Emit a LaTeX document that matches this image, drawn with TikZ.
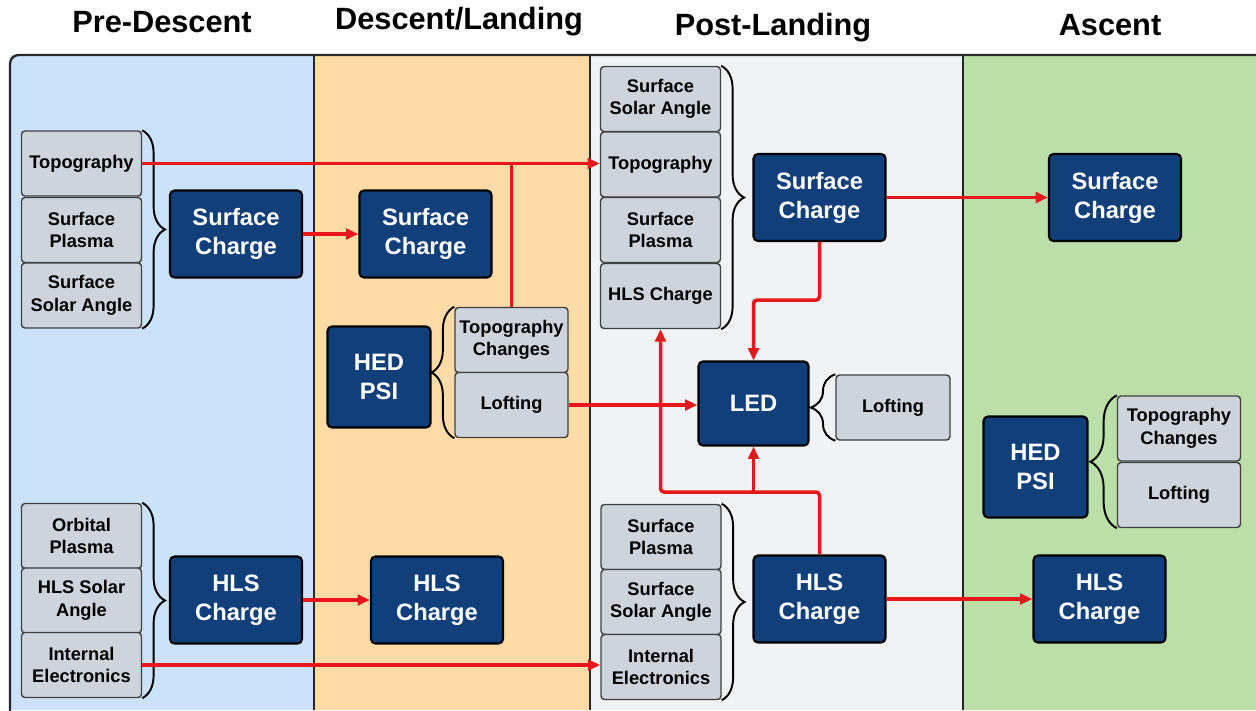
\documentclass[tikz,border=0pt]{standalone}
\usepackage{fontspec}
\setmainfont{Liberation Sans}
\setsansfont{Liberation Sans}
\usetikzlibrary{arrows.meta, calc, decorations.pathreplacing}
\definecolor{navy}{HTML}{103F7A}
\definecolor{gfill}{HTML}{CED4DC}
\definecolor{redl}{HTML}{E8171C}
\definecolor{pblue}{HTML}{CCE2FB}
\definecolor{porange}{HTML}{FDDBA6}
\definecolor{pgray}{HTML}{F1F2F4}
\definecolor{pgreen}{HTML}{BCDFAA}

\begin{document}
\begin{tikzpicture}[
    x=0.02cm, y=-0.02cm,
    every node/.style={font=\sffamily\bfseries},
    title/.style={font=\sffamily\bfseries\fontsize{17.5}{20}\selectfont, anchor=base},
    gbox/.style={
        rectangle, rounded corners=2pt, minimum width=2.4cm,
        minimum height=1.3cm, line width=0.8pt, inner sep=1pt,
        draw=black!75, fill=gfill, text=black, align=center,
        font=\sffamily\bfseries\fontsize{10.4}{12.8}\selectfont,
    },
    dbox/.style={
        rectangle, rounded corners=2.5pt, minimum width=2.64cm,
        minimum height=1.74cm, line width=1.2pt,
        draw=black, fill=navy, text=white, align=center,
        font=\sffamily\bfseries\fontsize{13.5}{16.5}\selectfont,
    },
    arr/.style={-{Triangle[length=7pt, width=6pt]}, line width=2pt, draw=redl, rounded corners=2pt},
    wire/.style={line width=2pt, draw=redl},
    brc/.style={decorate, decoration={brace, amplitude=#1}, draw=black, line width=1.1pt},
    brc/.default=13pt,
]
\useasboundingbox (0,0) rectangle (1256,710);
\clip (0,0) rectangle (1256,710);

% ---------------------------------------------------------------- panels
\fill[pblue]   (10,55)  rectangle (314,710);
\fill[porange] (314,55) rectangle (590,710);
\fill[pgray]   (590,55) rectangle (963,710);
\fill[pgreen]  (963,55) rectangle (1256,710);
\foreach \x in {314, 590, 963}{
    \draw[black!85, line width=1.2pt] (\x,55) -- (\x,710);
}
\draw[black!85, line width=1.3pt, rounded corners=5pt] (10,715) -- (10,55) -- (1262,55);

\node[title] (tPre)  at (162,32)  {Pre-Descent};
\node[title] (tDesc) at (459,30)  {Descent/Landing};
\node[title] (tPost) at (773,35)  {Post-Landing};
\node[title] (tAsc)  at (1110,35) {Ascent};

% ---------------------------------------------------------------- pre-descent
\node[gbox] (pdTopo)   at (81.5,163.5) {Topography};
\node[gbox] (pdPlasma) at (81.5,230)   {Surface\\Plasma};
\node[gbox] (pdSolar)  at (81.5,295.5) {Surface\\Solar Angle};
\node[dbox] (pdSC)     at (236,234)    {Surface\\Charge};
\draw[brc] (pdTopo.north east) -- (pdSolar.south east);

\node[gbox] (pdOrb)    at (81.5,536)   {Orbital\\Plasma};
\node[gbox] (pdHsol)   at (81.5,600.5) {HLS Solar\\Angle};
\node[gbox] (pdElec)   at (81.5,665)   {Internal\\Electronics};
\node[dbox] (pdHLS)    at (236,600)    {HLS\\Charge};
\draw[brc] (pdOrb.north east) -- (pdElec.south east);

% ---------------------------------------------------------------- descent/landing
\node[dbox] (dlSC)     at (425.5,234)  {Surface\\Charge};
\node[dbox, minimum width=2.06cm, minimum height=2.02cm] (dlHED) at (379,377) {HED\\PSI};
\node[gbox, minimum width=2.26cm] (dlTopoCh) at (511.5,340) {Topography\\Changes};
\node[gbox, minimum width=2.26cm] (dlLoft)   at (511.5,405) {Lofting};
\draw[brc] (dlLoft.south west) -- (dlTopoCh.north west);
\node[dbox] (dlHLS)    at (437,600)    {HLS\\Charge};

% ---------------------------------------------------------------- post-landing
\node[gbox] (plSolar)  at (660.5,99)    {Surface\\Solar Angle};
\node[gbox] (plTopo)   at (660.5,164.5) {Topography};
\node[gbox] (plPlasma) at (660.5,230)   {Surface\\Plasma};
\node[gbox] (plHbox)   at (660.5,296)   {HLS Charge};
\draw[brc] (plSolar.north east) -- (plHbox.south east);
\node[dbox] (plSC)     at (819.5,197.5) {Surface\\Charge};

\node[dbox, minimum width=2.2cm, minimum height=1.68cm] (plLED) at (753.5,403.5) {LED};
\node[gbox, minimum width=2.28cm] (plLoft) at (893,407.5) {Lofting};
\draw[brc=14pt] (plLoft.south west) -- (plLoft.north west);

\node[gbox] (plBPlasma) at (661,537) {Surface\\Plasma};
\node[gbox] (plBSolar)  at (661,602) {Surface\\Solar Angle};
\node[gbox] (plBElec)   at (661,667) {Internal\\Electronics};
\draw[brc] (plBPlasma.north east) -- (plBElec.south east);
\node[dbox] (plHLS)     at (819.5,599) {HLS\\Charge};

% ---------------------------------------------------------------- ascent
\node[dbox] (asSC)  at (1115,197.5) {Surface\\Charge};
\node[dbox, minimum width=2.08cm, minimum height=2.02cm] (asHED) at (1035.5,467) {HED\\PSI};
\node[gbox, minimum width=2.46cm] (asTopoCh) at (1179,428.5) {Topography\\Changes};
\node[gbox, minimum width=2.46cm] (asLoft)   at (1179,495)   {Lofting};
\draw[brc=15pt] (asLoft.south west) -- (asTopoCh.north west);
\node[dbox] (asHLS) at (1099.5,599) {HLS\\Charge};

% ---------------------------------------------------------------- connectors
\draw[arr] (pdTopo.east) -- (pdTopo.east -| plTopo.west);
\draw[wire] (dlTopoCh.north) -- (dlTopoCh.north |- pdTopo.east);
\draw[arr] (pdSC.east) -- (dlSC.west);
\draw[arr] (pdHLS.east) -- (dlHLS.west);
\draw[arr] (pdElec.east) -- (pdElec.east -| plBElec.west);
\draw[arr] (dlLoft.east) -- (dlLoft.east -| plLED.west);

\draw[arr] (plSC.south) -- ++(0,58) -| (plLED.north);
\coordinate (junc) at (plLED.south |- 0,492);
\draw[arr] (plHLS.north) |- (junc) -| (plHbox.south);
\draw[arr] (junc) -- (plLED.south);

\draw[arr] (plSC.east) -- (asSC.west);
\draw[arr] (plHLS.east) -- (asHLS.west);

\end{tikzpicture}
\end{document}
